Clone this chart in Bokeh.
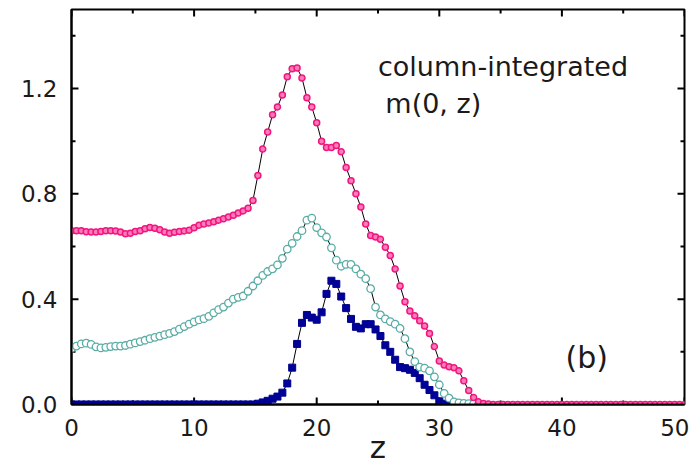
import numpy as np
from bokeh.plotting import figure
from bokeh.models import (ColumnDataSource, FixedTicker, PrintfTickFormatter,
                          Label, Range1d)
from bokeh.embed import file_html
from bokeh.resources import INLINE

# ---------------- data ----------------
Z_STEP = 0.4
X_MIN, X_MAX = 0, 50
Y_MIN, Y_MAX = 0.0, 1.5

pink_vals = [
    0.660, 0.660, 0.660, 0.656, 0.655, 0.655, 0.657, 0.660, 0.660, 0.659,
    0.655, 0.648, 0.650, 0.657, 0.660, 0.667, 0.672, 0.669, 0.664, 0.655,
    0.650, 0.654, 0.657, 0.659, 0.662, 0.671, 0.681, 0.685, 0.689, 0.694,
    0.700, 0.705, 0.712, 0.719, 0.727, 0.735, 0.745, 0.775, 0.870, 0.970,
    1.035, 1.100, 1.130, 1.175, 1.245, 1.275, 1.278, 1.240, 1.165, 1.130,
    1.070, 1.000, 0.976, 0.976, 0.984, 0.960, 0.900, 0.850, 0.800, 0.750,
    0.685, 0.642, 0.636, 0.628, 0.597, 0.566, 0.515, 0.450, 0.390, 0.355,
    0.337, 0.318, 0.298, 0.270, 0.220, 0.165, 0.150, 0.143, 0.140, 0.128,
    0.090, 0.053, 0.027, 0.010, 0.004, 0.002, 0.000, 0.000, 0.000, 0.000,
    0.000, 0.000, 0.000, 0.000, 0.000, 0.000, 0.000, 0.000, 0.000, 0.000,
    0.000, 0.000, 0.000, 0.000, 0.000, 0.000, 0.000, 0.000, 0.000, 0.000,
    0.000, 0.000, 0.000, 0.000, 0.000, 0.000, 0.000, 0.000, 0.000, 0.000,
    0.000, 0.000, 0.000, 0.000, 0.000, 0.000,
]

cyan_vals = [
    0.213, 0.222, 0.230, 0.233, 0.228, 0.219, 0.215, 0.217, 0.220, 0.222,
    0.222, 0.224, 0.229, 0.234, 0.239, 0.244, 0.250, 0.255, 0.260, 0.265,
    0.270, 0.277, 0.286, 0.296, 0.305, 0.314, 0.321, 0.326, 0.335, 0.348,
    0.360, 0.370, 0.385, 0.400, 0.407, 0.412, 0.430, 0.450, 0.470, 0.490,
    0.505, 0.515, 0.530, 0.555, 0.590, 0.612, 0.638, 0.660, 0.700, 0.708,
    0.672, 0.652, 0.636, 0.595, 0.548, 0.525, 0.532, 0.532, 0.515, 0.495,
    0.478, 0.440, 0.370, 0.340, 0.325, 0.315, 0.305, 0.289, 0.250, 0.200,
    0.163, 0.142, 0.138, 0.128, 0.105, 0.075, 0.042, 0.024, 0.010, 0.006,
    0.004, 0.003, 0.002, 0.001, 0.000,
]

blue_vals = [
    0.000, 0.000, 0.000, 0.000, 0.000, 0.000, 0.000, 0.000, 0.000, 0.000,
    0.000, 0.000, 0.000, 0.000, 0.000, 0.000, 0.000, 0.000, 0.000, 0.000,
    0.000, 0.000, 0.000, 0.000, 0.000, 0.000, 0.000, 0.000, 0.000, 0.000,
    0.000, 0.000, 0.000, 0.000, 0.000, 0.000, 0.000, 0.000, 0.003, 0.008,
    0.014, 0.022, 0.030, 0.045, 0.080, 0.140, 0.230, 0.310, 0.340, 0.330,
    0.322, 0.350, 0.420, 0.470, 0.458, 0.410, 0.366, 0.325, 0.295, 0.289,
    0.305, 0.305, 0.285, 0.260, 0.225, 0.200, 0.170, 0.142, 0.138, 0.132,
    0.120, 0.100, 0.075, 0.055, 0.035, 0.012, 0.003, 0.000,
]

x_major = [0, 10, 20, 30, 40, 50]
x_minor = [5, 15, 25, 35, 45]
y_major = [0.0, 0.4, 0.8, 1.2]
y_minor = [0.2, 0.6, 1.0, 1.4]

x_title = "z"
ann_title1 = "column-integrated"
ann_title2 = "m(0, z)"
ann_panel = "(b)"

FONT = "DejaVu Sans"
TXT = "#1a1a1a"

def zgrid(vals):
    return np.round(np.arange(len(vals)) * Z_STEP, 2)

# ---------------- figure ----------------
p = figure(width=689, height=472, output_backend="svg", toolbar_location=None,
           x_range=Range1d(X_MIN, X_MAX), y_range=Range1d(Y_MIN, Y_MAX),
           min_border_left=71, min_border_right=5, min_border_top=9,
           min_border_bottom=68)
p.background_fill_color = "white"
p.border_fill_color = "white"
p.outline_line_color = "black"
p.outline_line_width = 2
p.xgrid.visible = False
p.ygrid.visible = False

for ax, ticks, minor in ((p.xaxis[0], x_major, x_minor), (p.yaxis[0], y_major, y_minor)):
    ax.ticker = FixedTicker(ticks=ticks, minor_ticks=minor)
    ax.axis_line_color = "black"
    ax.axis_line_width = 2
    ax.major_tick_in = 0
    ax.major_tick_out = 0
    ax.minor_tick_in = 0
    ax.minor_tick_out = 0
    ax.major_label_text_font = FONT
    ax.major_label_text_font_size = "23px"
    ax.major_label_text_color = TXT

p.yaxis[0].formatter = PrintfTickFormatter(format="%.1f")
p.yaxis[0].major_label_standoff = 14
xa = p.xaxis[0]
xa.major_label_standoff = 14
xa.axis_label = x_title
xa.axis_label_text_font = FONT
xa.axis_label_text_font_size = "31px"
xa.axis_label_text_font_style = "normal"
xa.axis_label_text_color = TXT
xa.axis_label_standoff = -10

# inward ticks on all four sides (half of each dash is clipped by the frame)
def ticks_src(xs, ys):
    return ColumnDataSource(dict(x=list(xs), y=list(ys)))

xt_major = ticks_src(x_major + x_major, [Y_MIN] * len(x_major) + [Y_MAX] * len(x_major))
xt_minor = ticks_src(x_minor + x_minor, [Y_MIN] * len(x_minor) + [Y_MAX] * len(x_minor))
yt_major = ticks_src([X_MIN] * len(y_major) + [X_MAX] * len(y_major), y_major + y_major)
yt_minor = ticks_src([X_MIN] * len(y_minor) + [X_MAX] * len(y_minor), y_minor + y_minor)

p.scatter("x", "y", source=xt_major, marker="dash", size=14, angle=np.pi / 2,
          line_color="black", line_width=2)
p.scatter("x", "y", source=xt_minor, marker="dash", size=8, angle=np.pi / 2,
          line_color="black", line_width=2)
p.scatter("x", "y", source=yt_major, marker="dash", size=14,
          line_color="black", line_width=2)
p.scatter("x", "y", source=yt_minor, marker="dash", size=8,
          line_color="black", line_width=2)

src_b = ColumnDataSource(dict(z=zgrid(blue_vals), v=blue_vals))
src_c = ColumnDataSource(dict(z=zgrid(cyan_vals), v=cyan_vals))
src_p = ColumnDataSource(dict(z=zgrid(pink_vals), v=pink_vals))

# blue squares
p.line("z", "v", source=src_b, line_color="black", line_width=1)
p.scatter("z", "v", source=src_b, marker="square", size=7,
          fill_color="#00009a", line_color="#00008a", line_width=1)
# cyan open circles
p.line("z", "v", source=src_c, line_color="black", line_width=1)
p.scatter("z", "v", source=src_c, marker="circle", size=7.5,
          fill_color="white", line_color="#5aaca6", line_width=1.3)
# pink circles
p.line("z", "v", source=src_p, line_color="black", line_width=1)
p.scatter("z", "v", source=src_p, marker="circle", size=6,
          fill_color="#ff7ab8", line_color="#f0167f", line_width=1.5)

p.add_layout(Label(x=25.0, y=1.284, text=ann_title1, text_font=FONT,
                   text_font_size="27px", text_color=TXT,
                   text_baseline="alphabetic"))
p.add_layout(Label(x=25.6, y=1.143, text=ann_title2, text_font=FONT,
                   text_font_size="27px", text_color=TXT,
                   text_baseline="alphabetic"))
p.add_layout(Label(x=40.3, y=0.178, text=ann_panel, text_font=FONT,
                   text_font_size="30px", text_color=TXT,
                   text_baseline="alphabetic"))

open("out.html", "w").write(file_html(p, INLINE))
